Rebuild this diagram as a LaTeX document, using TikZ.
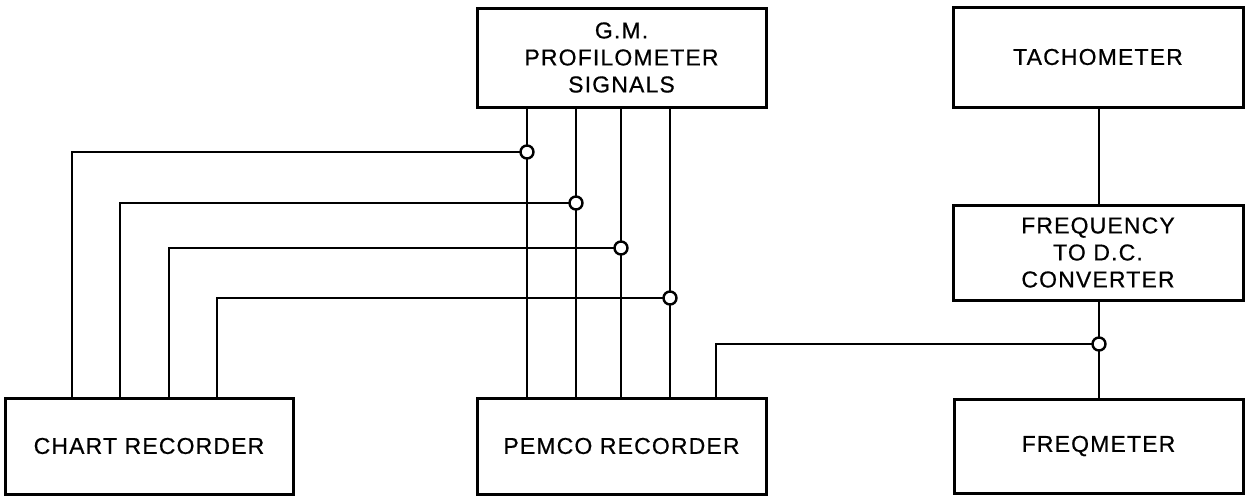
\documentclass[tikz,border=0pt]{standalone}
\usepackage{fontspec}
\setmainfont{Liberation Sans}[LetterSpace=5,FakeBold=0.6]
\begin{document}
\begin{tikzpicture}[x=1pt,y=-1pt,
  blk/.style={draw,line width=3pt,inner sep=0pt,align=center,
    font=\fontsize{23}{27}\selectfont},
  wire/.style={line width=2pt},
  jn/.style={circle,draw,line width=2.4pt,fill=white,minimum size=13pt,inner sep=0pt}]
\useasboundingbox (0,0) rectangle (1247,496);
\node[blk,minimum width=289pt,minimum height=99pt] (gm) at (621.5,57.5) {G.M.\\PROFILOMETER\\SIGNALS};
\node[blk,minimum width=290pt,minimum height=100pt] (tach) at (1098,57) {TACHOMETER};
\node[blk,minimum width=290pt,minimum height=95pt] (conv) at (1098,252.5) {FREQUENCY\\TO D.C.\\CONVERTER};
\node[blk,minimum width=288pt,minimum height=96pt] (chart) at (149,446) {CHART RECORDER};
\node[blk,minimum width=289pt,minimum height=96pt] (pemco) at (621.5,446) {PEMCO RECORDER};
\node[blk,minimum width=289pt,minimum height=94pt] (freq) at (1098.5,446) {FREQMETER};
\coordinate (j1) at (527,152);
\coordinate (j2) at (576,203);
\coordinate (j3) at (621,248);
\coordinate (j4) at (670,298);
\coordinate (j5) at (1099,344);
\foreach \j in {j1,j2,j3,j4}{
  \draw[wire] (gm.south -| \j) -- (pemco.north -| \j);
}
\draw[wire] (j1) -| ([xshift=68pt]chart.north west);
\draw[wire] (j2) -| ([xshift=116pt]chart.north west);
\draw[wire] (j3) -| ([xshift=165pt]chart.north west);
\draw[wire] (j4) -| ([xshift=213pt]chart.north west);
\draw[wire] (tach.south -| j5) -- (conv.north -| j5);
\draw[wire] (conv.south -| j5) -- (freq.north -| j5);
\draw[wire] (j5) -| ([xshift=240pt]pemco.north west);
\foreach \j in {j1,j2,j3,j4,j5}{
  \node[jn] (n\j) at (\j) {};
}
\end{tikzpicture}
\end{document}
